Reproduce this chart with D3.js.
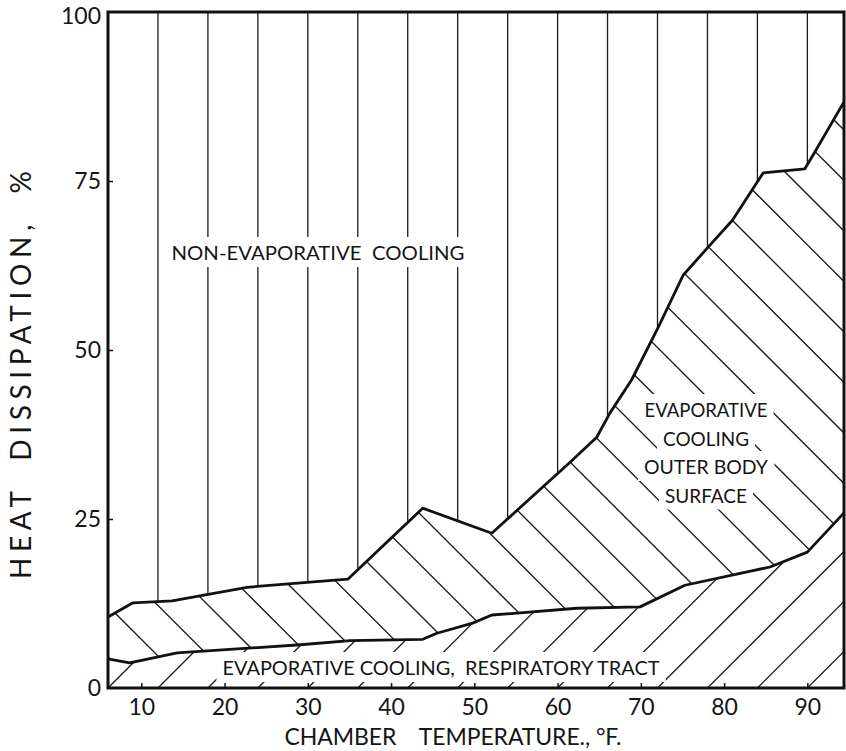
<!DOCTYPE html>
<html>
<head>
<meta charset="utf-8">
<script src="https://cdnjs.cloudflare.com/ajax/libs/d3/7.8.5/d3.min.js"></script>
<style>
  body { margin: 0; background: #fff; }
  text { font-family: Lato, "DejaVu Sans", sans-serif; fill: #151515; white-space: pre; }
</style>
</head>
<body>
<script>
'use strict';
(function() {

  // top edge of the outer-body band (cumulative %)
  const upperTemp = [6.0, 9.0, 13.7, 22.7, 34.8, 43.8, 52.1, 61.5, 64.7, 66.3, 68.9, 72.1, 75.1, 78.0, 81.0, 84.7, 89.7, 90.9, 94.4];
  const upperPct  = [10.5, 12.6, 12.9, 14.9, 16.1, 26.6, 22.9, 33.4, 37.1, 40.7, 45.6, 53.4, 61.1, 65.1, 69.2, 76.2, 76.8, 79.3, 86.7];

  // top edge of the respiratory tract band
  const lowerTemp = [6.0, 8.6, 14.3, 29.1, 35.1, 43.8, 45.5, 49.8, 52.1, 55.5, 62.3, 69.9, 75.3, 85.5, 90.0, 94.4];
  const lowerPct  = [4.3, 3.7, 5.2, 6.4, 7.0, 7.2, 8.1, 9.6, 10.8, 11.1, 11.8, 12.0, 15.2, 17.9, 20.1, 25.9];

  const xTicks = [10, 20, 30, 40, 50, 60, 70, 80, 90];
  const yTicks = [0, 25, 50, 75, 100];

  const xDomain = [6, 94.4];
  const yDomain = [0, 100];

  const width = 846, height = 751;
  const left = 108, right = 844, top = 12, bottom = 688;

  let svg = d3.select('body')
    .append('svg')
    .attr('width', width)
    .attr('height', height);

  svg.append('rect')
    .attr('width', width)
    .attr('height', height)
    .attr('fill', '#fff');

  let xScale = d3.scaleLinear().domain(xDomain).range([left, right]);
  let yScale = d3.scaleLinear().domain(yDomain).range([bottom, top]);

  let upperPts = upperTemp.map((t, i) => [t, upperPct[i]]);
  let lowerPts = lowerTemp.map((t, i) => [t, lowerPct[i]]);

  let line = d3.line()
    .x(d => xScale(d[0]))
    .y(d => yScale(d[1]));

  // regions used to clip the three hatchings
  let topPoly = upperPts.concat([[xDomain[1], 100], [xDomain[0], 100]]);
  let midPoly = upperPts.concat(lowerPts.slice().reverse());
  let botPoly = lowerPts.concat([[xDomain[1], 0], [xDomain[0], 0]]);

  let defs = svg.append('defs');
  [['clipTop', topPoly], ['clipMid', midPoly], ['clipBot', botPoly]].forEach(c => {
    defs.append('clipPath').attr('id', c[0])
      .append('path').attr('d', line(c[1]) + 'Z');
  });

  let hatchStyle = g => g.attr('stroke', '#1a1a1a').attr('stroke-width', 1.3).attr('fill', 'none');
  let step = xScale(12) - xScale(6);

  // vertical lines: non-evaporative cooling
  let gTop = svg.append('g').attr('clip-path', 'url(#clipTop)').call(hatchStyle);
  for (let t = 12; t <= 90; t += 6) {
    gTop.append('line')
      .attr('x1', xScale(t)).attr('x2', xScale(t))
      .attr('y1', top).attr('y2', bottom);
  }

  // "\" lines: evaporative cooling, outer body surface
  let gMid = svg.append('g').attr('clip-path', 'url(#clipMid)').call(hatchStyle);
  let midStart = xScale(15.85), midStep = 50.5;
  for (let k = -2; k < 32; k++) {
    let x0 = midStart + k * midStep;
    gMid.append('line')
      .attr('x1', x0).attr('y1', bottom)
      .attr('x2', x0 - 760).attr('y2', bottom - 760);
  }

  // "/" lines: respiratory tract
  let gBot = svg.append('g').attr('clip-path', 'url(#clipBot)').call(hatchStyle);
  for (let k = -1; k < 16; k++) {
    let x0 = xScale(6) + k * step;
    gBot.append('line')
      .attr('x1', x0).attr('y1', bottom)
      .attr('x2', x0 + 400).attr('y2', bottom - 400);
  }

  // region labels, with white gaps cut into the hatching behind them
  function label(lines, cx, y0, dy, len, size) {
    let g = svg.append('g');
    lines.forEach((s, i) => {
      let bg = g.append('rect').attr('fill', '#fff');
      let t = g.append('text')
        .attr('x', cx)
        .attr('y', y0 + i * dy)
        .attr('text-anchor', 'middle')
        .style('font-size', size + 'px')
        .attr('textLength', len[i])
        .attr('lengthAdjust', 'spacingAndGlyphs')
        .text(s);
      let b = t.node().getBBox();
      bg.attr('x', b.x - 6).attr('y', b.y - 3)
        .attr('width', b.width + 12).attr('height', b.height + 6);
    });
  }

  label(['NON-EVAPORATIVE  COOLING'], 318, 260, 0, [293], 20);
  label(['EVAPORATIVE', 'COOLING', 'OUTER BODY', 'SURFACE'], 706, 417, 28.5, [123, 86, 124, 82], 20);
  label(['EVAPORATIVE COOLING,  RESPIRATORY TRACT'], 441, 675, 0, [437], 20);

  // band boundaries
  [upperPts, lowerPts].forEach(p => {
    svg.append('path')
      .attr('d', line(p))
      .attr('fill', 'none')
      .attr('stroke', '#111')
      .attr('stroke-width', 2.8)
      .attr('stroke-linejoin', 'round');
  });

  // axes with short inward ticks
  let xAxis = d3.axisBottom(xScale).tickValues(xTicks).tickSize(-5).tickPadding(10);
  let gx = svg.append('g')
    .attr('transform', 'translate(0,' + bottom + ')')
    .call(xAxis);

  let yAxis = d3.axisLeft(yScale).tickValues(yTicks).tickSize(-5).tickPadding(7);
  let gy = svg.append('g')
    .attr('transform', 'translate(' + left + ',0)')
    .call(yAxis);

  [gx, gy].forEach(g => {
    g.select('.domain').remove();
    g.selectAll('line').attr('stroke', '#111').attr('stroke-width', 1.5);
    g.selectAll('text')
      .style('font-family', 'Lato, "DejaVu Sans", sans-serif')
      .style('font-size', '23px')
      .attr('fill', '#151515');
  });
  gy.selectAll('.tick')
    .filter(d => d === 0 || d === 100)
    .select('line').remove();
  gy.selectAll('.tick')
    .filter(d => d === 100)
    .select('text').attr('y', 4);
  gx.selectAll('text').attr('dy', '0.72em');

  // frame
  svg.append('rect')
    .attr('x', left).attr('y', top)
    .attr('width', right - left).attr('height', bottom - top)
    .attr('fill', 'none')
    .attr('stroke', '#111')
    .attr('stroke-width', 3);

  // axis titles
  svg.append('text')
    .attr('x', 453)
    .attr('y', 745)
    .attr('text-anchor', 'middle')
    .style('font-size', '23px')
    .attr('textLength', 337)
    .attr('lengthAdjust', 'spacing')
    .text('CHAMBER    TEMPERATURE., °F.');

  svg.append('text')
    .attr('transform', 'translate(31, 375)rotate(-90)')
    .attr('text-anchor', 'middle')
    .style('font-size', '28px')
    .attr('textLength', 408)
    .attr('lengthAdjust', 'spacing')
    .text('HEAT  DISSIPATION,  %');
})();
</script>
</body>
</html>
